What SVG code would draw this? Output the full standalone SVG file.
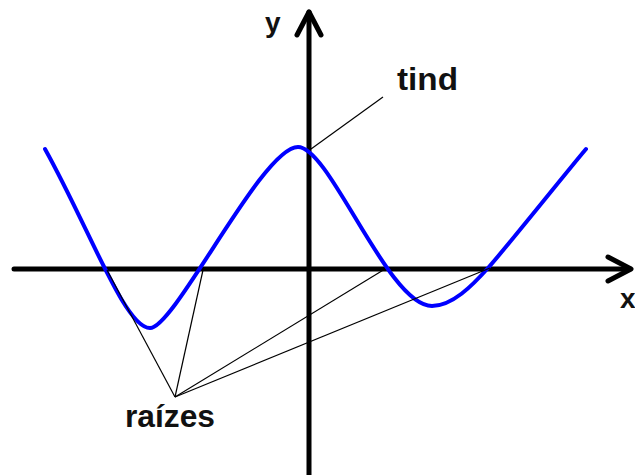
<svg xmlns="http://www.w3.org/2000/svg" width="635" height="475" viewBox="0 0 635 475">
<style>
.axis{stroke:#000;stroke-width:5;fill:none;stroke-linecap:round;stroke-linejoin:round}
.leader{stroke:#000;stroke-width:1.2;fill:none}
.curve{stroke:#0000ff;stroke-width:4;fill:none;stroke-linecap:round}
.lbl{font-family:"Liberation Sans",Arial,sans-serif;font-weight:bold;fill:#111}
</style>
<rect width="635" height="475" fill="#fff"/>
<g id="axes">
<line class="axis" x1="14" y1="269" x2="630" y2="269"/>
<polyline class="axis" points="608,257 631,269 608,281"/>
<line class="axis" x1="309" y1="12" x2="309" y2="478"/>
<polyline class="axis" points="297,35 309,12 321,35"/>
</g>
<g id="curve">
<path class="curve" d="M45,149 C90,230 125,328 150,328 C175,328 262,147 298,147 C330,147 388,306 432,306 C452,306 472,286 488,268 C506,248 560,180 586,149"/>
</g>
<g id="connectors">
<line class="leader" x1="311" y1="149" x2="383" y2="97"/>
<line class="leader" x1="175" y1="397" x2="107" y2="270"/>
<line class="leader" x1="175" y1="397" x2="203" y2="270"/>
<line class="leader" x1="175" y1="397" x2="385" y2="269"/>
<line class="leader" x1="175" y1="397" x2="490" y2="268"/>
</g>
<g id="label-y"><text class="lbl" x="265" y="32" font-size="28">y</text></g>
<g id="label-x"><text class="lbl" x="620" y="308" font-size="28">x</text></g>
<g id="label-tind"><text class="lbl" x="397" y="90" font-size="31" textLength="61" lengthAdjust="spacingAndGlyphs">tind</text></g>
<g id="label-raizes"><text class="lbl" x="125" y="427" font-size="31" textLength="90" lengthAdjust="spacingAndGlyphs">raízes</text></g>
</svg>
